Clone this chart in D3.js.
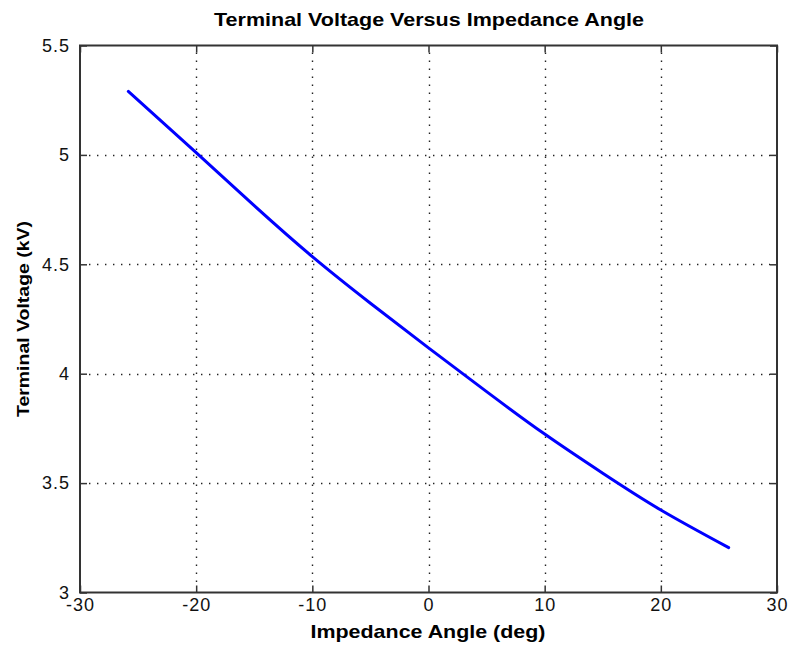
<!DOCTYPE html>
<html>
<head>
<meta charset="utf-8">
<script src="https://cdn.jsdelivr.net/npm/d3@7"></script>
<style>
  html, body { margin: 0; padding: 0; background: #fff; }
  svg { display: block; }
</style>
</head>
<body>
<svg id="chart" width="789" height="650"></svg>
<script>
// Data
const angleDeg = [-25.84, -20, -15, -10, -5, 0, 5, 10, 15, 20, 25.84];
const voltageKV = [5.29, 5.01, 4.768, 4.535, 4.322, 4.118, 3.918, 3.724, 3.545, 3.377, 3.205];
const xTicks = [-30, -20, -10, 0, 10, 20, 30];
const yTicks = [3, 3.5, 4, 4.5, 5, 5.5];
const titleText = "Terminal Voltage Versus Impedance Angle";
const xLabelText = "Impedance Angle (deg)";
const yLabelText = "Terminal Voltage (kV)";

const svg = d3.select("#chart");
const L = 80, R = 777, T = 45.5, B = 592.5;

const x = d3.scaleLinear().domain([-30, 30]).range([L, R]);
const y = d3.scaleLinear().domain([3, 5.5]).range([B, T]);

svg.append("rect").attr("width", 789).attr("height", 650).attr("fill", "#fff");

// grid
const grid = svg.append("g").attr("stroke", "#222").attr("stroke-width", 1.4)
  .attr("stroke-dasharray", "1.4,6.6");
grid.selectAll(".gx").data(xTicks.slice(1, -1)).join("line")
  .attr("x1", d => Math.round(x(d)) + 0.5).attr("x2", d => Math.round(x(d)) + 0.5)
  .attr("y1", T + 7).attr("y2", B - 7);
grid.selectAll(".gy").data(yTicks.slice(1, -1)).join("line")
  .attr("y1", d => Math.round(y(d)) + 0.5).attr("y2", d => Math.round(y(d)) + 0.5)
  .attr("x1", L + 9).attr("x2", R - 7);

// axes
const fontTick = "Liberation Sans, Arial, sans-serif";
const xAxis = d3.axisBottom(x).tickValues(xTicks).tickSizeInner(-7).tickSizeOuter(0).tickPadding(8).tickFormat(d => String(d));
const xAxisTop = d3.axisTop(x).tickValues(xTicks).tickSizeInner(-7).tickSizeOuter(0).tickFormat("");
const yAxis = d3.axisLeft(y).tickValues(yTicks).tickSizeInner(-7).tickSizeOuter(0).tickPadding(10).tickFormat(d => String(d));
const yAxisRight = d3.axisRight(y).tickValues(yTicks).tickSizeInner(-7).tickSizeOuter(0).tickFormat("");

function styleAxis(g) {
  g.select(".domain").remove();
  g.selectAll(".tick line").attr("stroke", "#333").attr("stroke-width", 1.5);
  g.selectAll(".tick text").attr("fill", "#111").style("font-family", fontTick).style("font-size", "18px")
    .style("letter-spacing", "1px");
}
svg.append("g").attr("transform", `translate(0,${B})`).call(xAxis).call(styleAxis)
  .selectAll(".tick text").attr("dy", "0.6em");
svg.append("g").attr("transform", `translate(0,${T})`).call(xAxisTop).call(styleAxis);
svg.append("g").attr("transform", `translate(${L},0)`).call(yAxis).call(styleAxis);
svg.append("g").attr("transform", `translate(${R},0)`).call(yAxisRight).call(styleAxis);

// frame
svg.append("rect").attr("x", L).attr("y", T).attr("width", R - L).attr("height", B - T)
  .attr("fill", "none").attr("stroke", "#333").attr("stroke-width", 2);

// line
const line = d3.line().x((d, i) => x(angleDeg[i])).y(d => y(d)).curve(d3.curveNatural);
svg.append("path").datum(voltageKV).attr("d", line)
  .attr("fill", "none").attr("stroke", "#0000ff").attr("stroke-width", 3)
  .attr("stroke-linecap", "round").attr("stroke-linejoin", "round");

// labels
const fontLabel = "Liberation Sans Narrow, Arial Narrow, Liberation Sans, Arial, sans-serif";
svg.append("text").attr("x", 429).attr("y", 26).attr("text-anchor", "middle")
  .style("font-family", fontLabel).style("font-weight", "bold").style("font-size", "19px")
  .attr("textLength", 430).attr("lengthAdjust", "spacingAndGlyphs").attr("fill", "#000")
  .text(titleText);
svg.append("text").attr("x", 428).attr("y", 638).attr("text-anchor", "middle")
  .style("font-family", fontLabel).style("font-weight", "bold").style("font-size", "19px")
  .attr("textLength", 235).attr("lengthAdjust", "spacingAndGlyphs").attr("fill", "#000")
  .text(xLabelText);
svg.append("text").attr("transform", `translate(29,${(T + B) / 2}) rotate(-90)`).attr("text-anchor", "middle")
  .style("font-family", "Liberation Sans, Arial, sans-serif").style("font-weight", "bold").style("font-size", "16px")
  .attr("textLength", 196).attr("lengthAdjust", "spacingAndGlyphs").attr("fill", "#000")
  .text(yLabelText);
</script>
</body>
</html>
